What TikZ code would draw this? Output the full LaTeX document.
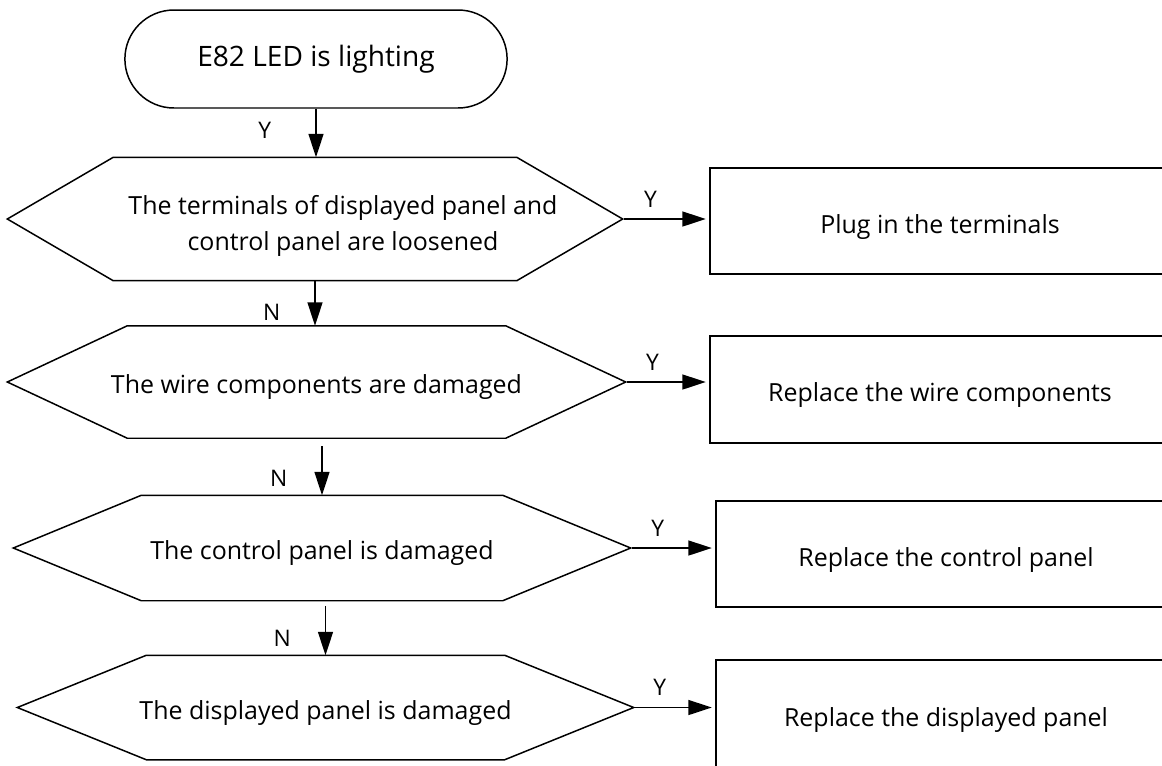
\documentclass[tikz,border=0pt]{standalone}
\usepackage{fontspec}
\setmainfont{Open Sans}
\usetikzlibrary{arrows.meta,shapes.misc}

% six-sided frame round a decision node
\newcommand{\hexframe}[2]{%
  \draw (#1.west) -- ([xshift=#2]#1.north west) -- ([xshift=-#2]#1.north east)
    -- (#1.east) -- ([xshift=-#2]#1.south east) -- ([xshift=#2]#1.south west) -- cycle;}

\begin{document}
\begin{tikzpicture}[
    x=0.02cm, y=-0.02cm,
    line width=0.85pt,
    every node/.style={font=\fontsize{14.2}{20}\selectfont},
    startbox/.style={draw, rounded rectangle, minimum width=7.88cm, minimum height=1.96cm, font=\fontsize{16}{20}\selectfont},
    decision/.style={align=center, inner sep=0pt, text height=0.58cm, text depth=0.12cm},
    action/.style={draw, minimum width=9.2cm, inner sep=0pt, text height=0.6cm, text depth=0.12cm},
    flow/.style={-{Triangle[length=0.47cm, width=0.3cm]}},
    tag/.style={inner sep=0pt, font=\fontsize{13}{16}\selectfont}
]
\useasboundingbox (0,0) rectangle (1162,765);
\clip (0,0) rectangle (1162,765);

\node[startbox] (start) at (316,59) {E82 LED is lighting};

\node[inner sep=0pt, minimum width=12.28cm, minimum height=2.44cm,
  label={[align=center, inner sep=0pt, xshift=0.56cm, yshift=-0.14cm]center:The terminals of displayed panel and\\control panel are loosened}]
  (loose) at (315,219) {};
\hexframe{loose}{2.12cm}
\node[decision, minimum width=12.34cm, minimum height=2.22cm] (wire) at (316.5,382)
  {The wire components are damaged};
\hexframe{wire}{2.4cm}
\node[decision, minimum width=12.32cm, minimum height=2.08cm] (ctrl) at (322,548)
  {The control panel is damaged};
\hexframe{ctrl}{2.56cm}
\node[decision, minimum width=12.30cm, minimum height=2.06cm] (disp) at (325.5,707.5)
  {The displayed panel is damaged};
\hexframe{disp}{2.58cm}

\node[action, minimum height=2.12cm] (plug) at (940,221) {Plug in the terminals};
\node[action, minimum height=2.14cm] (rwire) at (940,389.5) {Replace the wire components};
\node[action, minimum height=2.12cm] (rctrl) at (946,554) {Replace the control panel};
\node[action, minimum height=2.16cm] (rdisp) at (946,714) {Replace the displayed panel};

% main line
\draw[flow] (start.south) -- (start.south |- loose.north)
  node[tag, pos=0.45, left=0.88cm] {Y};
\draw[flow] (loose.south) -- (loose.south |- wire.north)
  node[tag, pos=0.7, left=0.68cm] {N};
\draw[flow] ([yshift=-0.16cm]ctrl.north |- wire.south) -- (ctrl.north)
  node[tag, pos=0.65, left=0.68cm] {N};
\draw[flow] ([yshift=-0.1cm]disp.north |- ctrl.south) -- (disp.north)
  node[tag, pos=0.65, left=0.68cm] {N};

% yes branches
\draw[flow, shorten <=1pt, shorten >=2pt] (loose.east) -- (loose.east -| plug.west)
  node[tag, pos=0.32, above=0.22cm] {Y};
\draw[flow, shorten <=1pt, shorten >=2pt] (wire.east) -- (wire.east -| rwire.west)
  node[tag, pos=0.32, above=0.22cm] {Y};
\draw[flow, shorten <=1pt, shorten >=2pt] (ctrl.east) -- (ctrl.east -| rctrl.west)
  node[tag, pos=0.32, above=0.22cm] {Y};
\draw[flow, shorten <=1pt, shorten >=2pt] (disp.east) -- (disp.east -| rdisp.west)
  node[tag, pos=0.32, above=0.22cm] {Y};
\end{tikzpicture}
\end{document}
